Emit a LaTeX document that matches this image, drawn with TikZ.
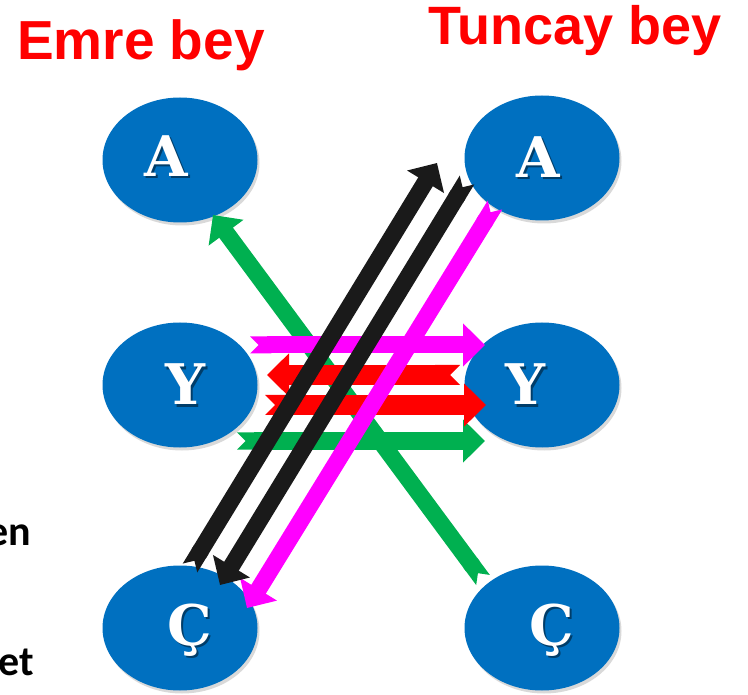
\documentclass[tikz,border=0pt]{standalone}
\usepackage{fontspec}
\setmainfont{DejaVu Serif}
\newfontfamily\baslik{Liberation Sans}
\newfontfamily\govde{Carlito}
\usetikzlibrary{arrows.meta,calc,shapes.geometric,shadows}
\definecolor{mavi}{HTML}{0070C0}
\definecolor{yesil}{HTML}{00B050}
\definecolor{pembe}{HTML}{FF00FF}
\definecolor{siyah}{HTML}{1A1A1A}
\begin{document}
\begin{tikzpicture}[x=1pt, y=-1pt,
	kisi/.style={ellipse, fill=mavi, minimum width=155pt, minimum height=125pt, inner sep=0pt,
		drop shadow={shadow xshift=2pt, shadow yshift=-3pt, opacity=.3}},
	harf/.style={anchor=base, inner sep=0pt, text=white, font=\fontsize{56}{60}\selectfont\bfseries},
	golge/.style={harf, text=black, opacity=.45},
	ok/.style={line width=17pt, {Triangle Cap[reversed]}-{Triangle[width=42pt,length=22pt]}},
	]
	\useasboundingbox (0,0) rectangle (748,695);
	% kisiler
	\foreach \n/\x/\y in {al/180/160, ar/542/158, yl/180/385, yr/542/385, cl/180/628, cr/542/628}
	\node[kisi] (\n) at (\x,\y) {};
	\foreach \n/\t/\dx/\dy in {al/A/-14/17, ar/A/-4/20, yl/Y/5/20, yr/Y/-17/20, cl/Ç/10/17, cr/Ç/10/17}
	{
		\node[golge] at ($(\n)+(\dx+2,\dy+2)$) {\t};
		\node[harf] (h\n) at ($(\n)+(\dx,\dy)$) {\t};
	}
	% basliklar
	\node[anchor=base west, inner sep=0pt, text=red, font=\baslik\fontsize{55}{60}\selectfont\bfseries] (emre) at (17,60) {Emre bey};
	\node[anchor=base west, inner sep=0pt, text=red, font=\baslik\fontsize{54}{60}\selectfont\bfseries] (tuncay) at (428,45) {Tuncay bey};
	\node[anchor=base east, inner sep=0pt, font=\govde\fontsize{42}{46}\selectfont\bfseries] (en) at (31,545) {en};
	\node[anchor=base east, inner sep=0pt, font=\govde\fontsize{42}{46}\selectfont\bfseries] (et) at (34,675) {et};
	% oklar
	\draw[ok, yesil] ($(cr)+(-59,-48)$) -- ($(al)+(33,55)$);
	\draw[ok, yesil] ($(yl)+(57,56)$) -- ($(yr)+(-57,56)$);
	\draw[ok, red, line width=20pt] ($(yr)+(-82,-10)$) -- ($(yl)+(87,-10)$);
	\draw[ok, red, line width=20pt] ($(yl)+(85,20)$) -- ($(yr)+(-56,20)$);
	\draw[ok, pembe] ($(yl)+(70,-40)$) -- ($(yr)+(-57,-40)$);
	\draw[ok, pembe] ($(ar)+(-47,47)$) -- ($(cl)+(67,-20)$);
	\draw[ok, siyah] ($(cl)+(10,-60)$) -- ($(ar)+(-105,5)$);
	\draw[ok, siyah] ($(ar)+(-75,22)$) -- ($(cl)+(40,-43)$);
\end{tikzpicture}
\end{document}
